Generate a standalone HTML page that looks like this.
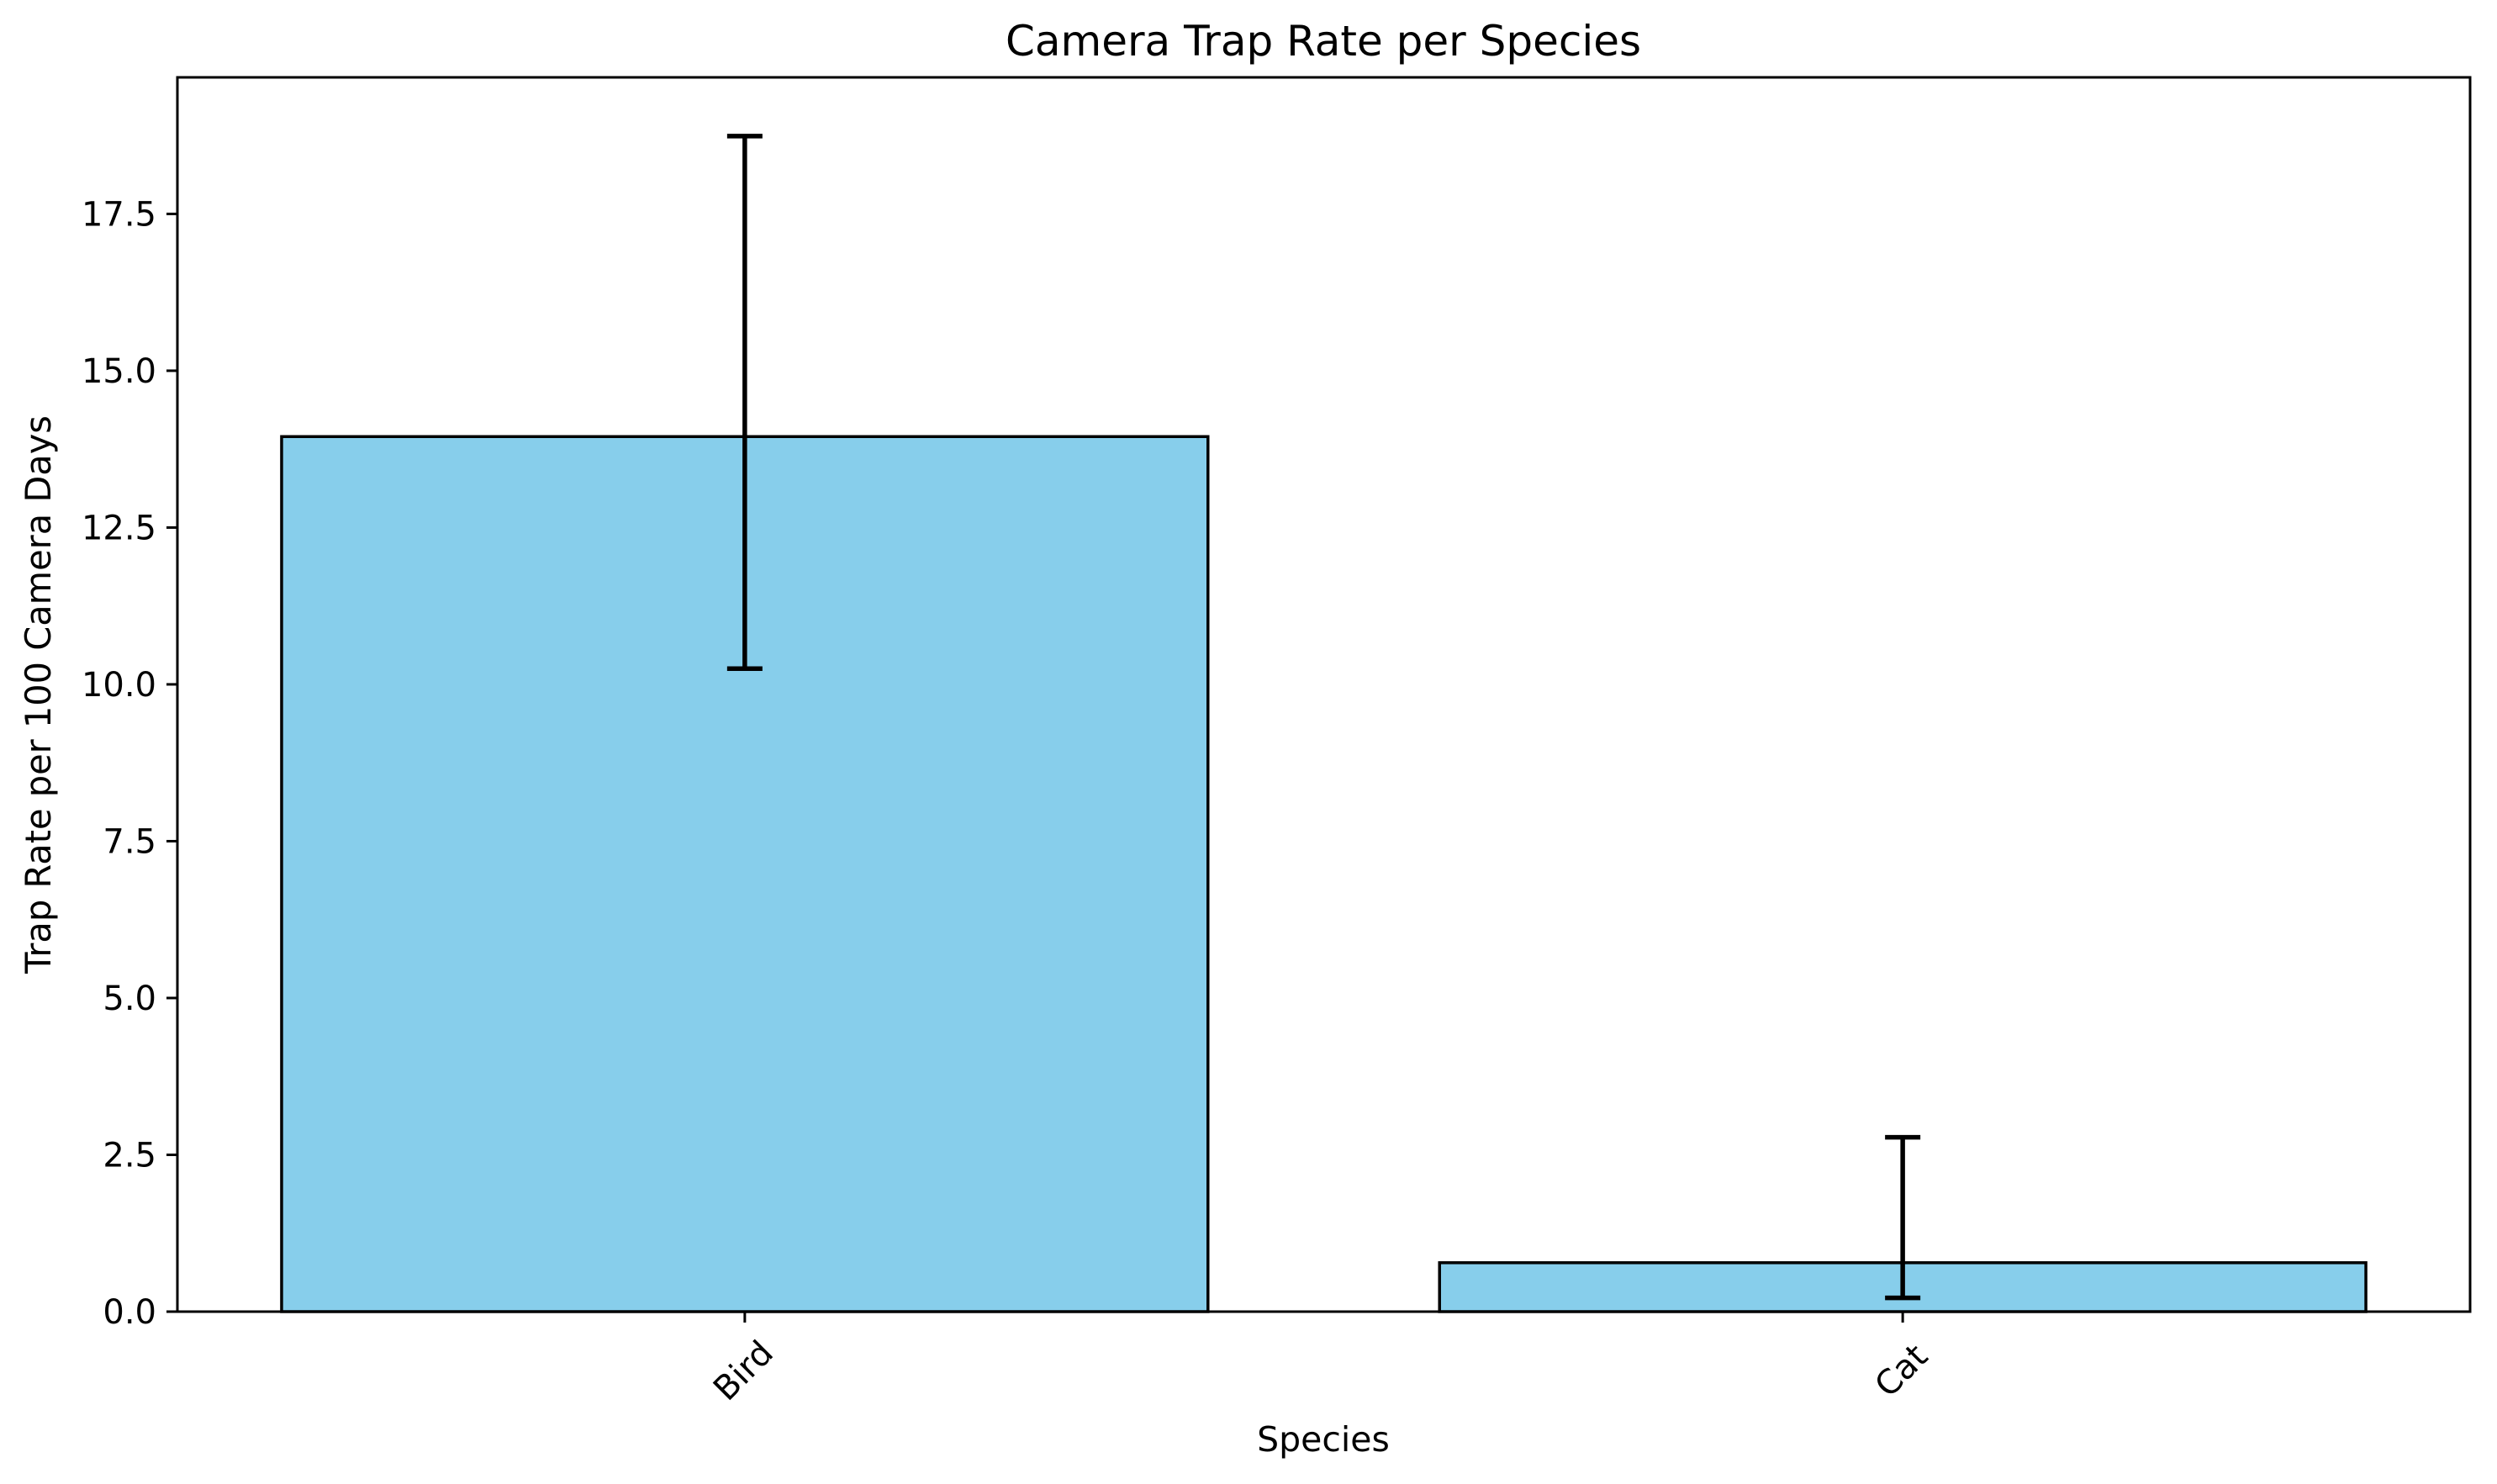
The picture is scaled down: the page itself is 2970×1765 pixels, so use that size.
<!DOCTYPE html>
<html><head><meta charset="utf-8"><style>
html,body{margin:0;padding:0;background:#fff}
svg{display:block}
text{font-family:"DejaVu Sans","Liberation Sans",sans-serif;fill:#000}
</style></head><body>
<svg id="chart" width="2970" height="1765" viewBox="0 0 2970 1765" xmlns="http://www.w3.org/2000/svg">
<rect width="2970" height="1765" fill="#fff"/>
<text x="1574" y="66" font-size="50" text-anchor="middle">Camera Trap Rate per Species</text>
<text x="1574" y="1726" font-size="41" text-anchor="middle">Species</text>
<text transform="translate(60,826) rotate(-90)" font-size="41.5" text-anchor="middle">Trap Rate per 100 Camera Days</text>
<g id="plot"></g>
</svg>
<script>
const categories = ["Bird", "Cat"];
const values = [13.95, 0.78];
const errLow = [10.25, 0.22];
const errHigh = [18.74, 2.78];
const yTicks = [0, 2.5, 5.0, 7.5, 10.0, 12.5, 15.0, 17.5];
const yTickLabels = ["0.0", "2.5", "5.0", "7.5", "10.0", "12.5", "15.0", "17.5"];

const L = 211, R = 2938, T = 92, B = 1560;
const yMax = Math.max(...errHigh) * 1.05;
const xMin = -0.49, xMax = categories.length - 1 + 0.49;
const xs = v => L + (v - xMin) / (xMax - xMin) * (R - L);
const ys = v => B - v / yMax * (B - T);
const NS = "http://www.w3.org/2000/svg";
const g = document.getElementById("plot");
function mk(tag, attrs) { const e = document.createElementNS(NS, tag); for (const k in attrs) e.setAttribute(k, attrs[k]); g.appendChild(e); return e; }

categories.forEach((c, i) => {
  const x0 = xs(i - 0.4), x1 = xs(i + 0.4);
  const bar = mk("rect", {x: x0, y: ys(values[i]), width: x1 - x0, height: B - ys(values[i]), fill: "#87ceeb", stroke: "#000", "stroke-width": 3.5});
  
  
});
categories.forEach((c, i) => {
  const cx = xs(i);
  const ln = mk("line", {x1: cx, x2: cx, y1: ys(errLow[i]), y2: ys(errHigh[i]), stroke: "#000", "stroke-width": 5.5});
  
  
  [errLow[i], errHigh[i]].forEach(v => {
    const cap = mk("line", {x1: cx - 21, x2: cx + 21, y1: ys(v), y2: ys(v), stroke: "#000", "stroke-width": 5.5});
    
    
  });
  const t = mk("line", {x1: cx, x2: cx, y1: B, y2: B + 13, stroke: "#000", "stroke-width": 3});
  
  
  const lbl = mk("text", {transform: `translate(${cx},${B + 72}) rotate(-45)`, "font-size": 40, "text-anchor": "middle", "dominant-baseline": "middle"});
  lbl.textContent = c;
  
  
});
yTicks.forEach((v, i) => {
  const y = ys(v);
  const t = mk("line", {x1: L - 13, x2: L, y1: y, y2: y, stroke: "#000", "stroke-width": 3});
  
  
  const lbl = mk("text", {x: L - 25, y: y + 14, "font-size": 40, "text-anchor": "end"});
  lbl.textContent = yTickLabels[i];
  
  
});
const frame = mk("rect", {x: L, y: T, width: R - L, height: B - T, fill: "none", stroke: "#000", "stroke-width": 3});


</script>
</body></html>
